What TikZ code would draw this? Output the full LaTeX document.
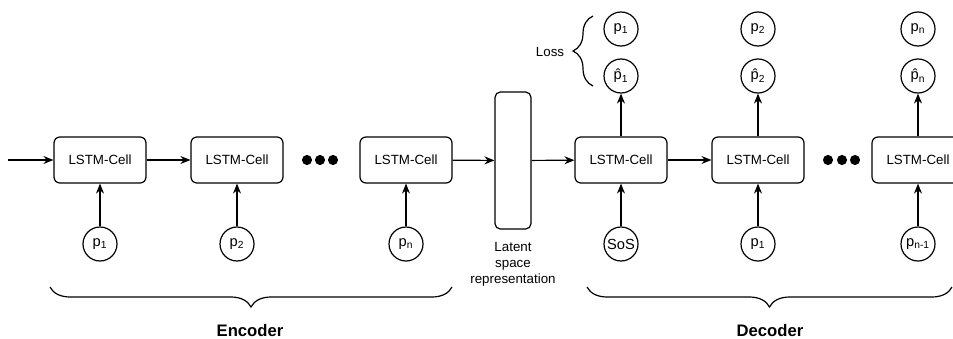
\documentclass[tikz,border=0pt]{standalone}
\usepackage{fontspec}
\setmainfont{Liberation Sans}
\usetikzlibrary{arrows.meta,decorations.pathreplacing}

\tikzset{
	cell/.style={draw, rounded corners=4.5pt, minimum width=69pt, minimum height=34.5pt, line width=0.9pt, font=\fontsize{10}{12}\selectfont},
	token/.style={draw, circle, minimum size=25.5pt, inner sep=0pt, line width=0.9pt, font=\fontsize{11}{13}\selectfont},
	latentbox/.style={draw, rounded corners=4pt, minimum width=27pt, minimum height=102.75pt, line width=0.9pt},
	flow/.style={line width=0.9pt, -{Stealth[length=7.5pt,width=6pt,inset=2.5pt]}},
	curly/.style={decorate, decoration={brace, amplitude=15pt}, line width=0.9pt},
	caption/.style={font=\fontsize{10}{12}\selectfont, align=center},
	part/.style={font=\fontsize{12.5}{15}\selectfont\bfseries}
}

\begin{document}
\begin{tikzpicture}[x=0.75pt, y=-0.75pt]
		\pgfmathsetmacro{\celly}{160}
		\pgfmathsetmacro{\iny}{244}
		\pgfmathsetmacro{\haty}{76}
		\pgfmathsetmacro{\tgty}{29}
		\useasboundingbox (0,0) rectangle (953,339);
		
		% encoder
		\foreach \x/\i/\lab in {100/1/1, 237/2/2, 406/3/n}
		{
			\node[cell] (enc\i) at (\x,\celly) {LSTM-Cell};
			\node[token] (in\i) at (\x,\iny) {p\textsubscript{\lab}};
			\draw[flow] (in\i) -- (enc\i);
		}
		\coordinate (start) at (8,\celly);
		\draw[flow] (start) -- (enc1);
		\draw[flow] (enc1) -- (enc2);
		
		% latent space
		\node[latentbox] (latent) at (513,160.5) {};
		\node[caption] (latentlabel) at (513,264) {Latent\\space\\representation};
		\draw[flow] (enc3) -- (latent);
		
		% decoder
		\foreach \x/\i/\inlab/\outlab in {621/1/{SoS}/1, 758/2/{p\textsubscript{1}}/2, 918/3/{p\textsubscript{n-1}}/n}
		{
			\node[cell] (dec\i) at (\x,\celly) {LSTM-Cell};
			\node[token] (din\i) at (\x,\iny) {\inlab};
			\node[token] (hat\i) at (\x,\haty) {\^{p}\textsubscript{\outlab}};
			\node[token] (tgt\i) at (\x,\tgty) {p\textsubscript{\outlab}};
			\draw[flow] (din\i) -- (dec\i);
			\draw[flow] (dec\i) -- (hat\i);
		}
		\draw[flow] (latent) -- (dec1);
		\draw[flow] (dec1) -- (dec2);
		
		\foreach \x in {307, 320, 333, 828, 842, 855}
			\fill (\x,\celly) circle (3.8pt);
		
		% loss
		\draw[curly] (593,86) -- (593,16);
		\node[caption] (loss) at (550,52) {Loss};
		
		% braces
		\draw[curly, decoration={mirror}] (50,287) -- (452,287);
		\node[part] (encoder) at (250,331) {Encoder};
		\draw[curly, decoration={mirror}] (587,287) -- (952,287);
		\node[part] (decoder) at (770,331) {Decoder};
	\end{tikzpicture}
\end{document}
